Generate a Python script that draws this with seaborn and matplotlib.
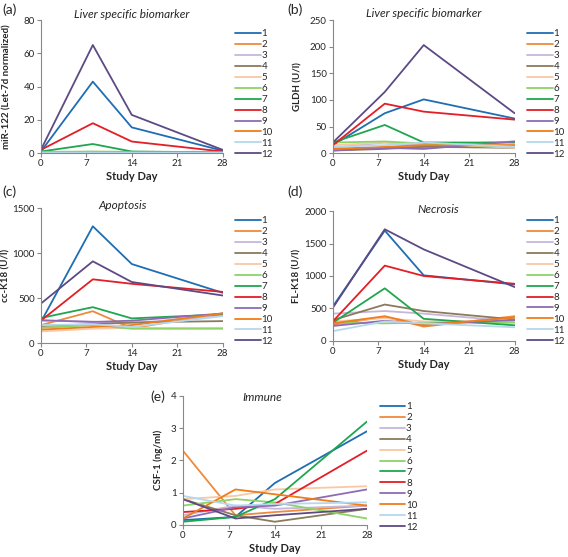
import pandas as pd
import matplotlib.pyplot as plt
import seaborn as sns

days = [0, 8, 14, 28]
subjects = [str(i) for i in range(1, 13)]
colors = ['#1f6db3', '#ee8a3c', '#c6b6da', '#8b7b5b', '#f9c8a4', '#8fd268',
          '#1fa64f', '#e31e26', '#8e6bb4', '#f07d1a', '#b5d8ec', '#5d4a85']

mir122 = {
    '1': [1, 43, 15.5, 1.5], '2': [0.3, 0.4, 0.5, 0.5], '3': [0.5, 0.8, 0.6, 0.4],
    '4': [0.4, 0.5, 0.5, 0.3], '5': [0.6, 0.7, 0.5, 0.4], '6': [0.8, 1.0, 0.8, 0.5],
    '7': [1, 5.5, 1, 0.5], '8': [2, 18, 7, 1], '9': [0.5, 0.6, 0.5, 0.4],
    '10': [0.2, 0.3, 0.4, 0.3], '11': [0.5, 0.5, 0.4, 0.4], '12': [2, 65, 23, 2],
}
gldh = {
    '1': [15, 75, 101, 65], '2': [8, 10, 12, 15], '3': [10, 20, 15, 22],
    '4': [5, 8, 12, 10], '5': [15, 20, 18, 10], '6': [20, 22, 18, 12],
    '7': [20, 53, 20, 20], '8': [15, 93, 78, 63], '9': [5, 10, 8, 22],
    '10': [8, 12, 15, 15], '11': [12, 15, 20, 12], '12': [20, 115, 203, 75],
}
cck18 = {
    '1': [235, 1300, 880, 560], '2': [200, 355, 165, 330], '3': [250, 240, 220, 310],
    '4': [190, 210, 230, 245], '5': [130, 160, 170, 170], '6': [170, 200, 160, 160],
    '7': [280, 400, 275, 320], '8': [250, 710, 660, 570], '9': [255, 235, 250, 330],
    '10': [150, 180, 200, 330], '11': [200, 210, 180, 300], '12': [440, 910, 680, 530],
}
flk18 = {
    '1': [530, 1700, 1010, 870], '2': [250, 370, 220, 380], '3': [420, 460, 420, 300],
    '4': [320, 560, 460, 330], '5': [300, 350, 300, 310], '6': [280, 270, 280, 280],
    '7': [280, 810, 340, 240], '8': [300, 1160, 1000, 880], '9': [230, 310, 260, 320],
    '10': [270, 380, 240, 360], '11': [150, 300, 270, 210], '12': [510, 1720, 1410, 830],
}
csf1 = {
    '1': [0.15, 0.25, 1.3, 2.9], '2': [2.3, 0.3, 0.4, 0.6], '3': [0.3, 0.6, 0.5, 0.6],
    '4': [0.8, 0.3, 0.1, 0.5], '5': [0.8, 0.9, 1.1, 1.2], '6': [0.6, 0.8, 0.7, 0.2],
    '7': [0.1, 0.25, 0.8, 3.2], '8': [0.4, 0.5, 0.65, 2.3], '9': [0.2, 0.55, 0.6, 1.1],
    '10': [0.2, 1.1, 0.95, 0.6], '11': [0.9, 0.6, 0.65, 0.7], '12': [0.8, 0.2, 0.3, 0.5],
}

# tag, title, ylabel, data, ymax, ystep, axes rect, tag pos (fig px),
# title y, legend y, title x, ylabel x (fig px)
panels = [
    ('(a)', 'Liver specific biomarker', 'miR-122 (Let-7d normalized)', mir122, 80, 20,
     [0.072, 0.725, 0.320, 0.239], (2, 10), 1.045, 0.93, 0.5, 11),
    ('(b)', 'Liver specific biomarker', 'GLDH (U/l)', gldh, 250, 50,
     [0.586, 0.725, 0.320, 0.239], (287, 10), 1.05, 0.93, 0.5, 302),
    ('(c)', 'Apoptosis', 'cc-K18 (U/l)', cck18, 1500, 500,
     [0.072, 0.384, 0.320, 0.242], (2, 192), 1.02, 0.94, 0.45, 10),
    ('(d)', 'Necrosis', 'FL-K18 (U/l)', flk18, 2000, 500,
     [0.586, 0.388, 0.320, 0.233], (287, 192), 1.01, 0.96, 0.58, 301),
    ('(e)', 'Immune', 'CSF-1 (ng/ml)', csf1, 4, 1,
     [0.322, 0.0575, 0.324, 0.232], (150, 397), 0.985, 0.95, 0.43, 163),
]

sns.set_style('white')
plt.rcParams['font.family'] = ['Lato', 'DejaVu Sans']
palette = dict(zip(subjects, colors))

fig = plt.figure(figsize=(5.68, 5.57), dpi=100)
for tag, title, ylabel, data, ymax, ystep, rect, tagpos, ty, ly, tx, yx in panels:
    rows = [(d, s, v) for s in subjects for d, v in zip(days, data[s])]
    df = pd.DataFrame(rows, columns=['day', 'subject', 'value'])
    ax = fig.add_axes(rect)
    sns.lineplot(data=df, x='day', y='value', hue='subject', palette=palette,
                 hue_order=subjects, linewidth=1.3, ax=ax)
    ax.set_xlim(0, 28)
    ax.set_ylim(0, ymax)
    ax.set_xticks([0, 7, 14, 21, 28])
    ax.set_yticks(range(0, ymax + 1, ystep))
    ax.tick_params(labelsize=7, length=3, width=0.8, color='#888888', direction='out',
                   bottom=True, left=True, pad=1.5)
    sns.despine(ax=ax)
    for sp in ['left', 'bottom']:
        ax.spines[sp].set_color('#888888')
        ax.spines[sp].set_linewidth(0.8)
    ax.set_xlabel('Study Day', fontsize=8, fontweight='bold', labelpad=2)
    ax.set_ylabel(ylabel, fontsize=7, fontweight='bold')
    ax.yaxis.set_label_coords(yx / 568, rect[1] + rect[3] / 2, transform=fig.transFigure)
    ax.text(tx, ty, title, transform=ax.transAxes, fontsize=8.5, style='italic',
            ha='center', va='center')
    fig.text(tagpos[0] / 568, 1 - tagpos[1] / 557, tag, fontsize=10, va='center')
    ax.legend(loc='upper left', bbox_to_anchor=(1.07, ly), frameon=False,
              fontsize=7, handlelength=2.6, labelspacing=0.2, handletextpad=0.1,
              borderaxespad=0, borderpad=0)

fig.savefig('out.png', dpi=100)
